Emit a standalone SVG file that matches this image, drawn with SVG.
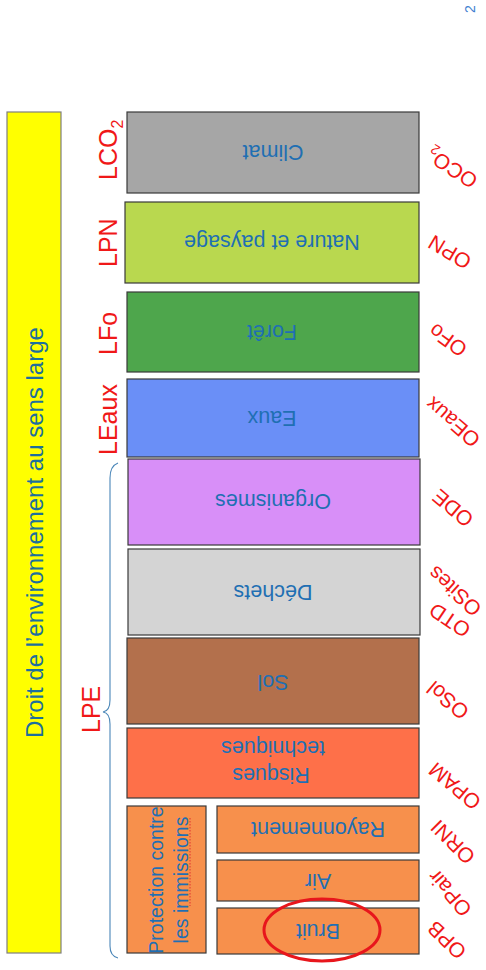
<svg xmlns="http://www.w3.org/2000/svg" width="486" height="970" viewBox="0 0 486 970">
<style>
.box{stroke:#3a3a3a;stroke-width:1.2}
.bt{font-family:"Liberation Sans",Arial,sans-serif;font-size:21.5px;fill:#1f6fb3;text-anchor:middle}
.ll{font-family:"Liberation Sans",Arial,sans-serif;font-size:25px;fill:#f01818}
.rl{font-family:"Liberation Sans",Arial,sans-serif;font-size:21px;fill:#f01818;text-anchor:middle}
</style>
<rect width="486" height="970" fill="#ffffff"/>
<text transform="translate(470,9) rotate(-90)" font-family="Liberation Sans, Arial, sans-serif" font-size="14" fill="#3f7fd0" text-anchor="middle" y="5">2</text>

<g id="droit">
<rect x="7" y="112" width="54" height="841" fill="#ffff00" stroke="#7f7f7f" stroke-width="1.2"/>
<text transform="translate(43,738) rotate(-90)" font-family="Liberation Sans, Arial, sans-serif" font-size="24" fill="#1d6f9c">Droit de l’environnement au sens large</text>
</g>

<g id="climat">
<rect class="box" x="127" y="112" width="292" height="81" fill="#a6a6a6" stroke="#555"/>
<text class="bt" transform="rotate(180 273 152.5)" x="273" y="160">Climat</text>
</g>
<g id="nature">
<rect class="box" x="125" y="202" width="294" height="81" fill="#b9d84f"/>
<text class="bt" transform="rotate(180 272 242.5)" x="272" y="250">Nature et paysage</text>
</g>
<g id="foret">
<rect class="box" x="127" y="292" width="292" height="80" fill="#4ea64c"/>
<text class="bt" transform="rotate(180 272 332)" x="272" y="339.5">Forêt</text>
</g>
<g id="eaux">
<rect class="box" x="127" y="379" width="292" height="78" fill="#6a8ff7"/>
<text class="bt" transform="rotate(180 272 418)" x="272" y="425.5">Eaux</text>
</g>
<g id="organismes">
<rect class="box" x="128" y="459" width="292" height="86" fill="#d88ff8" stroke="#2a2050"/>
<text class="bt" transform="rotate(180 273 501)" x="273" y="508.5">Organismes</text>
</g>
<g id="dechets">
<rect class="box" x="128" y="549" width="292" height="86" fill="#d4d4d4"/>
<text class="bt" transform="rotate(180 273 592)" x="273" y="599.5">Déchets</text>
</g>
<g id="sol">
<rect class="box" x="127" y="638" width="292" height="86" fill="#b3704c"/>
<text class="bt" transform="rotate(180 273 682)" x="273" y="689.5">Sol</text>
</g>
<g id="risques">
<rect class="box" x="127" y="728" width="292" height="70" fill="#fe7049"/>
<g transform="rotate(180 273 763)">
<text class="bt" x="275" y="758.5">Risques</text>
<text class="bt" x="273" y="785.5">techniques</text>
</g>
</g>
<g id="protection">
<rect class="box" x="127" y="806" width="79" height="147" fill="#f7904c"/>
<text transform="translate(163,880) rotate(-90)" font-family="Liberation Sans, Arial, sans-serif" font-size="19.5" fill="#1f6fb3" text-anchor="middle">Protection contre</text>
<text transform="translate(187.5,880) rotate(-90)" font-family="Liberation Sans, Arial, sans-serif" font-size="19.5" fill="#1f6fb3" text-anchor="middle">les immissions</text>
<line x1="190" y1="818" x2="190" y2="906" stroke="#e03030" stroke-width="1" stroke-dasharray="1.5 1.5"/>
</g>
<g id="rayonnement">
<rect class="box" x="217" y="806" width="202" height="47" fill="#f7904c"/>
<text class="bt" transform="rotate(180 318 829)" x="318" y="836.5">Rayonnement</text>
</g>
<g id="air">
<rect class="box" x="217" y="860" width="202" height="41" fill="#f7904c"/>
<text class="bt" transform="rotate(180 318 881)" x="318" y="888.5">Air</text>
</g>
<g id="bruit">
<rect class="box" x="217" y="908" width="202" height="46" fill="#f7904c"/>
<text class="bt" transform="rotate(180 318 931)" x="318" y="938.5">Bruit</text>
<ellipse cx="322" cy="930" rx="58" ry="31" fill="none" stroke="#e8161c" stroke-width="3"/>
</g>

<g id="lois">
<text class="ll" transform="translate(116.5,180) rotate(-90)">LCO<tspan font-size="16" dy="6">2</tspan></text>
<text class="ll" transform="translate(116.5,267) rotate(-90)">LPN</text>
<text class="ll" transform="translate(116.5,355) rotate(-90)">LFo</text>
<text class="ll" transform="translate(116.5,455) rotate(-90)">LEaux</text>
<text class="ll" transform="translate(100,733) rotate(-90)">LPE</text>
</g>

<g id="ordonnances">
<text class="rl" transform="translate(452,168) rotate(-147)" y="7">OCO<tspan font-size="14" dy="4">2</tspan></text>
<text class="rl" transform="translate(450,252) rotate(-149)" y="7">OPN</text>
<text class="rl" transform="translate(448,340) rotate(-144)" y="7">OFo</text>
<text class="rl" transform="translate(453,422) rotate(-139)" y="7">OEaux</text>
<text class="rl" transform="translate(453,508) rotate(-140)" y="7">ODE</text>
<text class="rl" transform="translate(455,591) rotate(-138)" y="7">OSites</text>
<text class="rl" transform="translate(450,620) rotate(-146)" y="7">OTD</text>
<text class="rl" transform="translate(448,700) rotate(-140)" y="7">OSol</text>
<text class="rl" transform="translate(455,786) rotate(-140)" y="7">OPAM</text>
<text class="rl" transform="translate(453,842) rotate(-135)" y="7">ORNI</text>
<text class="rl" transform="translate(450,893) rotate(-131)" y="7">OPair</text>
<text class="rl" transform="translate(447,940) rotate(-136)" y="7">OPB</text>
</g>

<g id="connectors">
<path d="M118,463 Q110,466 110,478 L110,700 Q110,711 103,712 Q110,713 110,724 L110,946 Q110,956 118,958" fill="none" stroke="#4a86b8" stroke-width="1.1"/>
</g>
</svg>
